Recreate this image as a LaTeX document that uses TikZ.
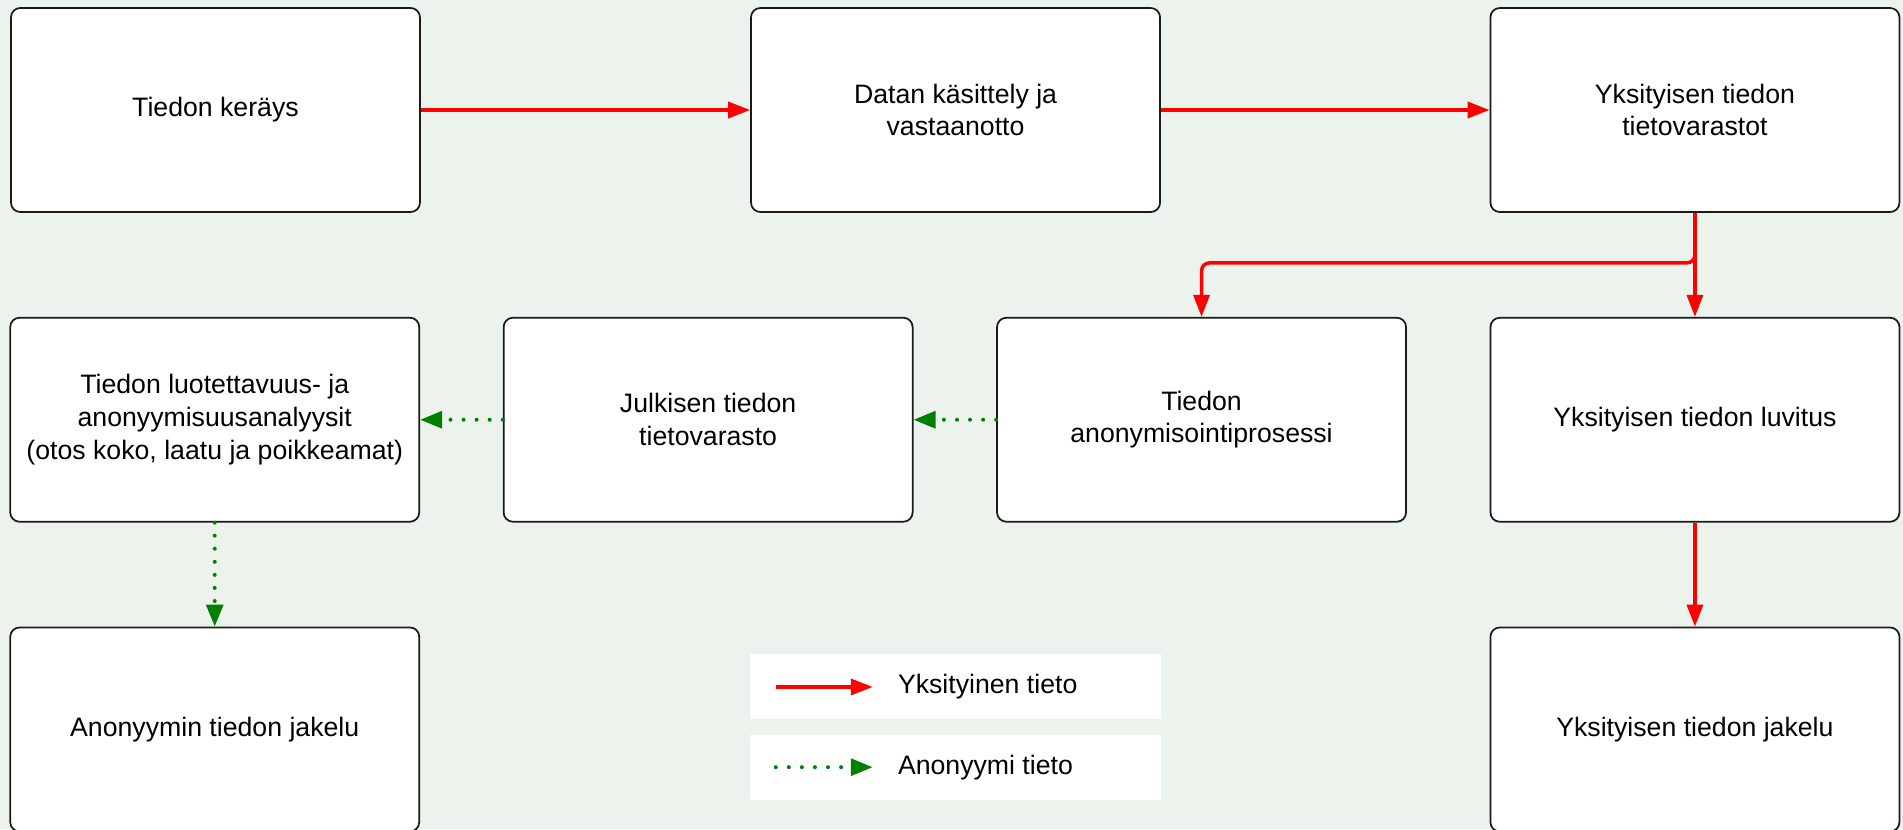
\documentclass[tikz,border=0pt]{standalone}
\usepackage{fontspec}
\setmainfont{Liberation Sans}
\usepackage{tikz}
\usetikzlibrary{arrows.meta, positioning}
\definecolor{bgGreen}{HTML}{ECF3EC}
\definecolor{flowPriv}{HTML}{FF0000}
\definecolor{flowAnon}{HTML}{008000}
\definecolor{boxLine}{HTML}{1A1A1A}

\begin{document}
\begin{tikzpicture}[
    node distance=78pt and 62pt,
    box/.style={draw=boxLine, line width=1.3pt, rounded corners=7pt, fill=white,
                minimum width=306.75pt, minimum height=153pt, align=center,
                font=\fontsize{20}{24.5}\selectfont},
    legbox/.style={fill=white, minimum width=308.25pt, minimum height=48.75pt},
    legtext/.style={anchor=west, inner sep=0pt, font=\fontsize{20}{24}\selectfont},
    priv/.style={-{Triangle[length=16.5pt, width=12pt]}, flowPriv, line width=2.6pt},
    anon/.style={-{Triangle[length=16.5pt, width=12.5pt]}, flowAnon, line width=3pt,
                 dash pattern=on 0pt off 9.8pt, line cap=round},
]
\useasboundingbox (0,0) rectangle (1427.25pt,-621.75pt);
\fill[bgGreen] (0,0) rectangle (1427.25pt,-621.75pt);

% Row 1
\node[box] (collect) at (161.6pt,-82.5pt) {Tiedon keräys};
\node[box, right=247pt of collect] (process) {Datan käsittely ja\\vastaanotto};
\node[box, right=246.5pt of process] (privstore) {Yksityisen tiedon\\tietovarastot};

% Row 2
\node[box, below=of privstore] (permit) {Yksityisen tiedon luvitus};
\node[box, left=of permit] (anonproc) {Tiedon\\anonymisointiprosessi};
\node[box, left=of anonproc] (pubstore) {Julkisen tiedon\\tietovarasto};
\node[box, left=of pubstore] (analysis) {Tiedon luotettavuus- ja\\anonyymisuusanalyysit\\(otos koko, laatu ja poikkeamat)};

% Row 3
\node[box, below=of analysis] (anondist) {Anonyymin tiedon jakelu};
\node[box, below=of permit] (privdist) {Yksityisen tiedon jakelu};

% Legend
\node[legbox, below=331pt of process] (legpriv) {};
\node[legbox, below=11pt of legpriv] (leganon) {};
\node[legtext] (legprivtxt) at ([xshift=111pt]legpriv.west) {Yksityinen tieto};
\node[legtext] (leganontxt) at ([xshift=111pt]leganon.west) {Anonyymi tieto};
\draw[priv] ([xshift=19.5pt]legpriv.west) -- ([xshift=92.25pt]legpriv.west);
\draw[anon] ([xshift=19.5pt]leganon.west) -- ([xshift=92.25pt]leganon.west);

% Private flow
\draw[priv] (collect) -- (process);
\draw[priv] (process) -- (privstore);
\draw[priv, rounded corners=6pt] (privstore.south) -- ++(0,-37.5pt) -| (anonproc.north);
\draw[priv] (privstore) -- (permit);
\draw[priv] (permit) -- (privdist);

% Anonymous flow
\draw[anon] (anonproc) -- (pubstore);
\draw[anon] (pubstore) -- (analysis);
\draw[anon] (analysis) -- (anondist);
\end{tikzpicture}
\end{document}
